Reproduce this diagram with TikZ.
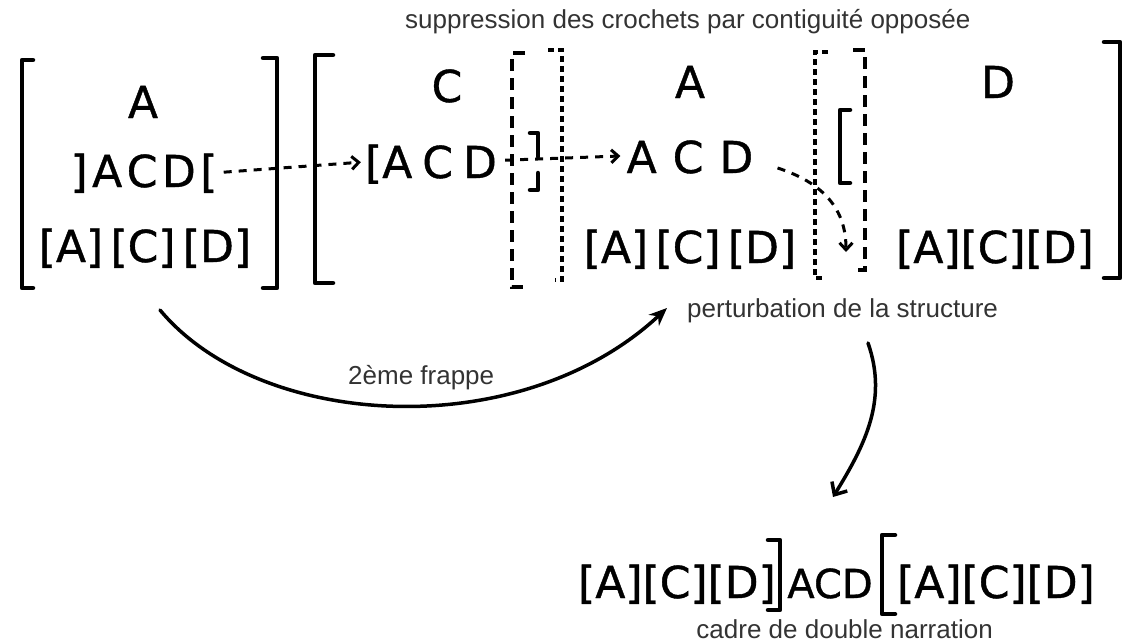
\documentclass[tikz,border=0pt]{standalone}
\usepackage{fontspec}
\setmainfont{Liberation Sans}
\newfontfamily\handfont[FakeBold=0.9]{DejaVu Sans}
\usetikzlibrary{arrows.meta,calc}
\begin{document}
\begin{tikzpicture}[x=1pt,y=-1pt,
 hand/.style={font=\handfont\fontsize{44}{44}\selectfont, inner sep=0pt, anchor=base},
 lbl/.style={font=\fontsize{26}{26}\selectfont, text=black!80, inner sep=0pt, anchor=base west},
 bigbr/.style={line width=4.5pt, line cap=round, line join=round},
 dashbr/.style={line width=4pt, dash pattern=on 12pt off 7pt},
 dotbr/.style={line width=3.5pt, dash pattern=on 6pt off 4pt},
 dasharrow/.style={line width=3pt, dash pattern=on 8pt off 7pt, -{Straight Barb[length=7pt,width=13pt,line width=3pt]}},
 solidarrow/.style={line width=3.5pt, line cap=round, -{Stealth[length=18pt,width=15pt]}},
 openarrow/.style={line width=3.5pt, line cap=round, -{Straight Barb[length=10pt,width=18pt,line width=3.5pt]}},
]
\path[use as bounding box] (0,0) rectangle (1129,643);
% ---- left block
\node[hand] (lA) at (143,118) {A};
\node[hand] (lr2) at (144,187) {]\hspace{4.5pt}A\hspace{4.5pt}C\hspace{4.5pt}D\hspace{4.5pt}[};
\node[hand] (lr3) at (145,262) {[A]\,[C]\,[D]};
\draw[bigbr] (33,60) -- (22,60) -- (22,288) -- (33,288);
\draw[bigbr] (263,58) -- (277,58) -- (277,288) -- (263,288);
% ---- middle block
\draw[bigbr] (333,55) -- (315,55) -- (315,283) -- (333,283);
\node[hand] (mC) at (447,102) {C};
\node[hand] (mr2) at (431,178) {[A\hspace{10pt}C\hspace{10pt}D};
\draw[dashbr] (525,53) -- (512,53) -- (512,287) -- (523,287);
\draw[bigbr] (530,133) -- (538,133) -- (538,157);
\draw[bigbr] (538,173) -- (538,190) -- (530,190);
\draw[dotbr] (548,50) -- (562,50) -- (562,280) -- (555,280);
% ---- third block
\node[hand] (tA) at (690,98) {A};
\node[hand] (tr2) at (690,173) {A\hspace{16pt}C\hspace{16pt}D};
\node[hand] (tr3) at (690,263) {[A]\,[C]\,[D]};
\draw[dotbr] (828,52) -- (815,52) -- (815,278) -- (825,278);
\draw[bigbr] (850,110) -- (840,110) -- (840,183) -- (850,183);
\draw[dashbr] (853,50) -- (865,50) -- (865,270) -- (858,270);
% ---- fourth block
\node[hand] (dD) at (998,98) {D};
\node[hand] (dr3) at (995,263) {[A][C][D]};
\draw[bigbr] (1104,42) -- (1120,42) -- (1120,278) -- (1104,278);
% ---- bottom formula
\node[hand] (b1) at (677,598) {[A][C][D]};
\draw[bigbr] (768,540) -- (780,540) -- (780,610) -- (768,610);
\node[hand,font=\handfont\fontsize{40}{40}\selectfont] (b2) at (830,598) {ACD};
\draw[bigbr] (895,535) -- (882,535) -- (882,614) -- (895,614);
\node[hand] (b3) at (996,598) {[A][C][D]};
% ---- labels
\node[lbl] (top) at (405,28) {suppression des crochets par contiguité opposée};
\node[lbl] (pert) at (687,317) {perturbation de la structure};
\node[lbl] (frappe) at (348,384) {2ème frappe};
\node[lbl, anchor=base east] (cadre) at (993,638) {cadre de double narration};
% ---- connectors
\draw[dasharrow] ($(lr2.east)+(6,-1)$) -- ($(mr2.west)+(-4,-2)$);
\draw[dasharrow] ($(mr2.east)+(8,-4)$) -- ($(tr2.west)+(-6,-1)$);
\draw[dasharrow] ($(tr2.east)+(24,11)$) .. controls (830,185) and (846,215) .. (846,252);
\coordinate (fs) at (160,310);
\coordinate (fe) at (667,308);
\draw[solidarrow] (fs) .. controls (260,430) and (520,445) .. (fe);
\coordinate (ps) at (868,343);
\coordinate (pe) at (833,497);
\draw[openarrow] (ps) .. controls (888,400) and (865,445) .. (pe);
\end{tikzpicture}
\end{document}
